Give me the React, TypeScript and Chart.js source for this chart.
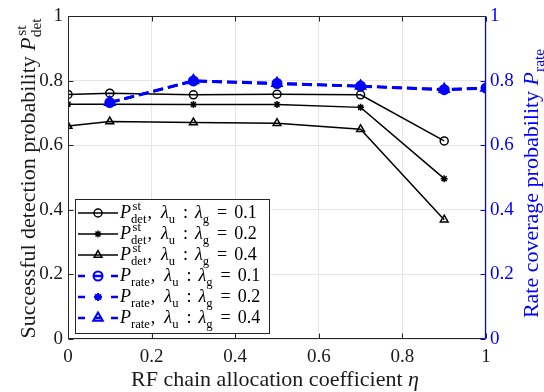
import React, { useEffect, useRef } from 'react';
import { Chart, registerables } from 'chart.js';

Chart.register(...registerables);

// RF chain allocation coefficient values
const etaDet = [0, 0.1, 0.3, 0.5, 0.7, 0.9];
const etaRate = [0.1, 0.3, 0.5, 0.7, 0.9, 1];

// Successful detection probability for each λu : λg ratio
const detRatio01 = [0.758, 0.762, 0.757, 0.759, 0.757, 0.614];
const detRatio02 = [0.728, 0.728, 0.727, 0.727, 0.718, 0.497];
const detRatio04 = [0.66, 0.674, 0.671, 0.669, 0.65, 0.37];

// Rate coverage probability for each λu : λg ratio
const rateRatio01 = [0.733, 0.8, 0.792, 0.784, 0.773, 0.778];
const rateRatio02 = [0.732, 0.799, 0.791, 0.783, 0.772, 0.777];
const rateRatio04 = [0.734, 0.801, 0.793, 0.784, 0.774, 0.778];

const ratioLabels = ['0.1', '0.2', '0.4'];
const tickValues = [0, 0.2, 0.4, 0.6, 0.8, 1];

const FONT = '"Liberation Serif", "Times New Roman", serif';
const BLUE = '#0000ff';
const AXIS = '#262626';

// s: text, it: italic, sub/sup: scripts, g: extra advance after the token
type Tok = { s: string; it?: boolean; sub?: string; sup?: string; g?: number };

const fontOf = (size: number, it?: boolean) => `${it ? 'italic ' : ''}${size}px ${FONT}`;

function measureRich(ctx: CanvasRenderingContext2D, toks: Tok[], size: number) {
  let w = 0;
  for (const t of toks) {
    ctx.font = fontOf(size, t.it);
    w += ctx.measureText(t.s).width;
    if (t.sub || t.sup) {
      ctx.font = fontOf(size * 0.7);
      let ex = 0;
      if (t.sub) ex = Math.max(ex, ctx.measureText(t.sub).width);
      if (t.sup) ex = Math.max(ex, ctx.measureText(t.sup).width + 1.5);
      w += ex + 1;
    }
    w += t.g || 0;
  }
  return w;
}

function drawRich(ctx: CanvasRenderingContext2D, toks: Tok[], x: number, y: number, size: number, color: string) {
  ctx.fillStyle = color;
  ctx.textBaseline = 'alphabetic';
  ctx.textAlign = 'left';
  let cx = x;
  for (const t of toks) {
    ctx.font = fontOf(size, t.it);
    ctx.fillText(t.s, cx, y);
    cx += ctx.measureText(t.s).width;
    if (t.sub || t.sup) {
      ctx.font = fontOf(size * 0.7);
      let ex = 0;
      if (t.sup) {
        ctx.fillText(t.sup, cx + 1.5, y - size * 0.42);
        ex = Math.max(ex, ctx.measureText(t.sup).width + 1.5);
      }
      if (t.sub) {
        ctx.fillText(t.sub, cx, y + size * 0.25);
        ex = Math.max(ex, ctx.measureText(t.sub).width);
      }
      cx += ex + 1;
    }
    cx += t.g || 0;
  }
}

function drawMarker(ctx: CanvasRenderingContext2D, style: string, x: number, y: number, r: number, color: string, lw: number) {
  ctx.save();
  ctx.setLineDash([]);
  ctx.strokeStyle = color;
  ctx.lineWidth = lw;
  ctx.beginPath();
  if (style === 'circle') {
    ctx.arc(x, y, r, 0, Math.PI * 2);
  } else if (style === 'triangle') {
    let rad = 0;
    ctx.moveTo(x + Math.sin(rad) * r, y - Math.cos(rad) * r);
    rad += (Math.PI * 2) / 3;
    ctx.lineTo(x + Math.sin(rad) * r, y - Math.cos(rad) * r);
    rad += (Math.PI * 2) / 3;
    ctx.lineTo(x + Math.sin(rad) * r, y - Math.cos(rad) * r);
    ctx.closePath();
  } else {
    ctx.moveTo(x - r, y);
    ctx.lineTo(x + r, y);
    ctx.moveTo(x, y - r);
    ctx.lineTo(x, y + r);
    const d = r * Math.SQRT1_2;
    ctx.moveTo(x - d, y - d);
    ctx.lineTo(x + d, y + d);
    ctx.moveTo(x - d, y + d);
    ctx.lineTo(x + d, y - d);
  }
  ctx.stroke();
  ctx.restore();
}

const styles = ['circle', 'star', 'triangle'];
const detSeries = [detRatio01, detRatio02, detRatio04];
const rateSeries = [rateRatio01, rateRatio02, rateRatio04];

const blackRadius = [4, 3.5, 4.5];
const blueRadius = [4.5, 4, 5.5];

const decorations = {
  id: 'decorations',
  afterDraw(chart: any) {
    const ctx: CanvasRenderingContext2D = chart.ctx;
    const { left, right, top, bottom } = chart.chartArea;
    const xs = chart.scales.x;
    const ys = chart.scales.y;
    const L = Math.round(left) + 0.5;
    const R = Math.round(right) - 0.5;
    const T = Math.round(top) + 0.5;
    const B = Math.round(bottom) - 0.5;
    ctx.save();
    ctx.setLineDash([]);
    ctx.lineWidth = 1;

    // inner tick marks
    const tl = 5;
    ctx.strokeStyle = AXIS;
    ctx.beginPath();
    for (const v of tickValues) {
      const px = Math.round(xs.getPixelForValue(v)) + 0.5;
      ctx.moveTo(px, B);
      ctx.lineTo(px, B - tl);
      ctx.moveTo(px, T);
      ctx.lineTo(px, T + tl);
      const py = Math.round(ys.getPixelForValue(v)) + 0.5;
      ctx.moveTo(L, py);
      ctx.lineTo(L + tl, py);
    }
    ctx.stroke();
    ctx.strokeStyle = BLUE;
    ctx.beginPath();
    for (const v of tickValues) {
      const py = Math.round(ys.getPixelForValue(v)) + 0.5;
      ctx.moveTo(R, py);
      ctx.lineTo(R - tl, py);
    }
    ctx.stroke();

    // axes box
    ctx.strokeStyle = AXIS;
    ctx.beginPath();
    ctx.moveTo(R, T);
    ctx.lineTo(L, T);
    ctx.lineTo(L, B);
    ctx.lineTo(R, B);
    ctx.stroke();
    ctx.strokeStyle = BLUE;
    ctx.lineWidth = 1.2;
    ctx.beginPath();
    ctx.moveTo(R, T);
    ctx.lineTo(R, B);
    ctx.stroke();

    // axis titles
    const tsize = 22;
    const xTitle: Tok[] = [{ s: 'RF chain allocation coefficient ' }, { s: 'η', it: true }];
    const xw = measureRich(ctx, xTitle, tsize);
    drawRich(ctx, xTitle, 275 - xw / 2, 386, tsize, '#1a1a1a');

    const yTitle: Tok[] = [{ s: 'Successful detection probability ' }, { s: 'P', it: true, sub: 'det', sup: 'st' }];
    const yw = measureRich(ctx, yTitle, tsize);
    ctx.save();
    ctx.translate(35, 178);
    ctx.rotate(-Math.PI / 2);
    drawRich(ctx, yTitle, -yw / 2, 0, tsize, '#1a1a1a');
    ctx.restore();

    const y1Title: Tok[] = [{ s: 'Rate coverage probability ' }, { s: 'P', it: true, sub: 'rate' }];
    const y1w = measureRich(ctx, y1Title, tsize);
    ctx.save();
    ctx.translate(538, 183);
    ctx.rotate(-Math.PI / 2);
    drawRich(ctx, y1Title, -y1w / 2, 0, tsize, BLUE);
    ctx.restore();

    // legend
    const bx = 75.5, by = 199.5, bw = 194, bh = 134;
    ctx.fillStyle = '#ffffff';
    ctx.fillRect(bx, by, bw, bh);
    ctx.strokeStyle = AXIS;
    ctx.lineWidth = 1;
    ctx.strokeRect(bx, by, bw, bh);

    const lsize = 18;
    for (let i = 0; i < 6; i++) {
      const cy = 213 + i * 21;
      const k = i % 3;
      const isRate = i >= 3;
      const color = isRate ? BLUE : '#000000';
      ctx.save();
      ctx.strokeStyle = color;
      if (!isRate) {
        ctx.lineWidth = 1.5;
        ctx.beginPath();
        ctx.moveTo(78, cy);
        ctx.lineTo(118, cy);
        ctx.stroke();
        drawMarker(ctx, styles[k], 98, cy, blackRadius[k], color, 1.5);
      } else {
        ctx.lineWidth = 2.5;
        ctx.beginPath();
        ctx.moveTo(78, cy);
        ctx.lineTo(85, cy);
        ctx.moveTo(94, cy);
        ctx.lineTo(102, cy);
        ctx.moveTo(111, cy);
        ctx.lineTo(118, cy);
        ctx.stroke();
        drawMarker(ctx, styles[k], 98, cy, blueRadius[k], color, 2);
      }
      ctx.restore();
      const toks: Tok[] = [
        isRate ? { s: 'P', it: true, sub: 'rate' } : { s: 'P', it: true, sub: 'det', sup: 'st' },
        { s: ',', g: 9 },
        { s: 'λ', it: true, sub: 'u', g: 7 },
        { s: ':', g: 7 },
        { s: 'λ', it: true, sub: 'g', g: 7 },
        { s: '=', g: 7 },
        { s: ratioLabels[k] },
      ];
      drawRich(ctx, toks, 120, cy + 5, lsize, '#000000');
    }
    ctx.restore();
  },
};

const tickLabel = (v: number | string) => {
  const n = Number(v);
  if (Math.abs(n) < 1e-9) return '0';
  if (Math.abs(n - 1) < 1e-9) return '1';
  return n.toFixed(1);
};

export default function App() {
  const canvasRef = useRef<HTMLCanvasElement | null>(null);

  useEffect(() => {
    document.body.style.margin = '0';
    const canvas = canvasRef.current;
    if (!canvas) return;

    const datasets: any[] = [];
    detSeries.forEach((vals, k) => {
      datasets.push({
        label: `det ${ratioLabels[k]}`,
        data: etaDet.map((x, i) => ({ x, y: vals[i] })),
        borderColor: '#000000',
        backgroundColor: 'rgba(0,0,0,0)',
        borderWidth: 1.5,
        pointStyle: styles[k],
        pointRadius: blackRadius[k],
        pointBorderWidth: 1.5,
        pointBorderColor: '#000000',
        pointBackgroundColor: 'rgba(0,0,0,0)',
        yAxisID: 'y',
        order: 2,
      });
    });
    rateSeries.forEach((vals, k) => {
      datasets.push({
        label: `rate ${ratioLabels[k]}`,
        data: etaRate.map((x, i) => ({ x, y: vals[i] })),
        borderColor: BLUE,
        backgroundColor: 'rgba(0,0,0,0)',
        borderWidth: 2.5,
        borderDash: [10, 5],
        pointStyle: styles[k],
        pointRadius: blueRadius[k],
        pointBorderWidth: 2,
        pointBorderColor: BLUE,
        pointBackgroundColor: k === 1 ? BLUE : 'rgba(0,0,0,0)',
        yAxisID: 'y1',
        order: 1,
      });
    });

    const tickFont = { family: FONT, size: 19 };

    const chart = new Chart(canvas, {
      type: 'line',
      data: { datasets },
      options: {
        animation: false,
        responsive: false,
        layout: { padding: { left: 8, top: 15, right: 0, bottom: 0 } },
        plugins: { legend: { display: false }, tooltip: { enabled: false } },
        scales: {
          x: {
            type: 'linear',
            min: 0,
            max: 1,
            afterBuildTicks: (s: any) => {
              s.ticks = tickValues.map((v) => ({ value: v }));
            },
            ticks: { color: '#1a1a1a', font: tickFont, padding: 7, maxRotation: 0, callback: tickLabel },
            grid: { color: '#e6e6e6', drawTicks: false, lineWidth: 1 },
            border: { display: false },
            afterFit: (s: any) => {
              s.height = 53;
            },
          },
          y: {
            type: 'linear',
            position: 'left',
            min: 0,
            max: 1,
            afterBuildTicks: (s: any) => {
              s.ticks = tickValues.map((v) => ({ value: v }));
            },
            ticks: { color: '#1a1a1a', font: tickFont, padding: 5, callback: tickLabel },
            grid: { color: '#e6e6e6', drawTicks: false, lineWidth: 1 },
            border: { display: false },
            afterFit: (s: any) => {
              s.width = 60;
            },
          },
          y1: {
            type: 'linear',
            position: 'right',
            min: 0,
            max: 1,
            afterBuildTicks: (s: any) => {
              s.ticks = tickValues.map((v) => ({ value: v }));
            },
            ticks: { color: BLUE, font: tickFont, padding: 4, callback: tickLabel },
            grid: { display: false, drawTicks: false },
            border: { display: false },
            afterFit: (s: any) => {
              s.width = 58;
            },
          },
        },
      } as any,
      plugins: [decorations],
    });

    return () => chart.destroy();
  }, []);

  return (
    <div style={{ width: 544, height: 392, background: '#ffffff' }}>
      <canvas ref={canvasRef} width={544} height={392} />
    </div>
  );
}
